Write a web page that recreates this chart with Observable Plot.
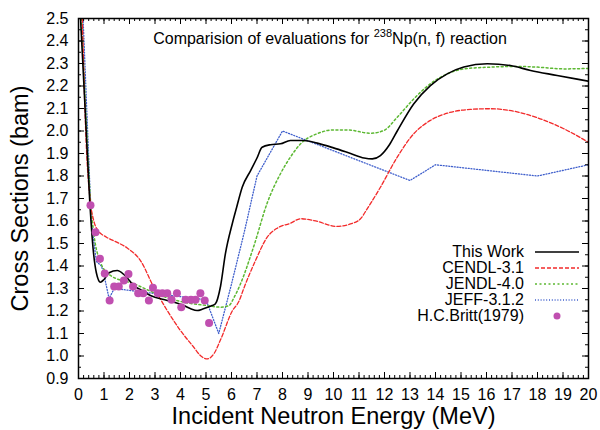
<!DOCTYPE html>
<html>
<head>
<meta charset="utf-8">
<script src="https://cdn.jsdelivr.net/npm/d3@7"></script>
<script src="https://cdn.jsdelivr.net/npm/@observablehq/plot@0.6"></script>
<style>
  html, body { margin: 0; padding: 0; background: #fff; }
  #wrap { position: relative; width: 600px; height: 430px; font-family: "Liberation Sans", Arial, sans-serif; color: #000; }
  #title { position: absolute; left: 130px; width: 400px; top: 31px; text-align: center; font-size: 16px; line-height: 16px; white-space: nowrap; }
  #title sup { font-size: 11px; line-height: 0; vertical-align: baseline; position: relative; top: -7px; }
  #legend { position: absolute; left: 380px; top: 244px; font-size: 16px; }
  .row { display: flex; align-items: center; height: 16px; line-height: 16px; }
  .row span { width: 144px; text-align: right; white-space: nowrap; }
  .row svg { margin-left: 11px; }
</style>
</head>
<body>
<div id="wrap">
  <div id="chart"></div>
  <div id="title">Comparision of evaluations for <sup>238</sup>Np(n, f) reaction</div>
  <div id="legend"></div>
</div>
<script>
// ---- Data ----
const thisWorkE = [0.08,0.25,0.44,0.57,0.7,0.86,1.0,1.2,1.52,1.8,2.17,2.5,2.82,3.48,4.13,4.4,4.65,4.9,5.1,5.24,5.37,5.57,5.76,6.03,6.2,6.42,6.75,7.0,7.2,7.53,7.92,8.31,8.84,9.36,10.0,10.67,11.2,11.52,11.84,12.2,12.5,13.15,13.8,14.46,15.11,16.03,16.94,17.73,18.77,20];
const thisWorkV = [2.5,2.12,1.69,1.48,1.37,1.328,1.34,1.37,1.38,1.36,1.313,1.29,1.269,1.247,1.224,1.21,1.202,1.21,1.218,1.224,1.232,1.31,1.454,1.588,1.66,1.75,1.824,1.88,1.928,1.939,1.943,1.958,1.958,1.946,1.925,1.90,1.88,1.876,1.891,1.94,2.0,2.121,2.202,2.254,2.284,2.299,2.291,2.269,2.247,2.221];

const cendlE = [0.15,0.3,0.45,0.6,0.75,1.1,1.52,1.91,2.43,2.95,3.48,4.0,4.52,4.8,5.05,5.31,5.57,6.03,6.3,6.48,6.94,7.4,7.79,8.31,8.71,9.23,10.14,10.67,11.06,11.32,11.84,12.5,13.15,13.8,14.46,15.37,16.16,17.07,17.99,19.03,20];
const cendlV = [2.5,1.95,1.70,1.60,1.56,1.528,1.505,1.48,1.424,1.306,1.202,1.113,1.039,1.0,0.987,1.01,1.072,1.2,1.245,1.3,1.424,1.528,1.568,1.59,1.61,1.602,1.576,1.587,1.61,1.654,1.75,1.884,1.988,2.047,2.079,2.096,2.099,2.088,2.059,2.01,1.95];

const jendlE = [0.12,0.3,0.47,0.6,0.86,1.25,2.17,3.22,4.13,5.05,5.57,5.9,6.1,6.35,6.88,7.4,7.92,8.31,8.71,9.36,10.01,10.54,11.45,11.97,12.5,13.15,13.8,14.46,15.11,16.16,17.2,17.99,19.03,20];
const jendlV = [2.5,2.05,1.69,1.544,1.417,1.358,1.321,1.269,1.239,1.224,1.217,1.224,1.26,1.32,1.49,1.68,1.81,1.884,1.943,1.988,2.005,2.005,1.99,2.002,2.061,2.143,2.21,2.254,2.276,2.284,2.287,2.284,2.276,2.278];

const jeffE = [0.18,0.5,0.7,0.9,1.0,1.2,1.4,5.0,5.5,6.0,6.5,7.0,8.0,13.0,14.0,18.0,20.0];
const jeffV = [2.5,1.60,1.42,1.40,1.36,1.255,1.30,1.25,1.10,1.32,1.55,1.80,2.0,1.78,1.85,1.80,1.85];

const brittE = [0.47,0.67,0.84,1.03,1.22,1.40,1.58,1.78,1.96,2.14,2.34,2.54,2.76,2.92,3.11,3.29,3.48,3.65,3.86,4.03,4.20,4.41,4.59,4.78,4.95,5.12];
const brittV = [1.670,1.550,1.432,1.367,1.247,1.309,1.309,1.336,1.365,1.309,1.279,1.279,1.247,1.303,1.279,1.279,1.279,1.25,1.279,1.217,1.25,1.25,1.25,1.279,1.247,1.147];

const xTickValues = d3.range(0, 21, 1);
const xMinorTicks = d3.range(0, 100.5, 1).map(i => i * 0.2);
const yTickValues = d3.range(9, 26, 1).map(i => i / 10);
const yMinorTicks = d3.range(18, 51, 1).map(i => i / 20);

const seriesNames = ["This Work", "CENDL-3.1", "JENDL-4.0", "JEFF-3.1.2", "H.C.Britt(1979)"];

// ---- Build ----
const pts = (E, V) => E.map((e, i) => ({e, v: V[i]}));
const styles = [
  {stroke: "#000000", strokeWidth: 1.6, strokeDasharray: null},
  {stroke: "#f22a2a", strokeWidth: 1.3, strokeDasharray: "4,2"},
  {stroke: "#5cb832", strokeWidth: 1.5, strokeDasharray: "2,2.5"},
  {stroke: "#3f5fcc", strokeWidth: 1.3, strokeDasharray: "1,1.8"}
];
const dotColor = "#c04fb0";

const W = 600, H = 430, mL = 78, mR = 12, mT = 18, mB = 52;
const iW = W - mL - mR, iH = H - mT - mB;

const chart = Plot.plot({
  width: W, height: H,
  marginLeft: mL, marginRight: mR, marginTop: mT, marginBottom: mB,
  x: {domain: [0, 20]},
  y: {domain: [0.9, 2.5]},
  style: {fontFamily: "'Liberation Sans', Arial, sans-serif", fontSize: "16px", color: "#000", background: "white"},
  marks: [
    Plot.line(pts(jeffE, jeffV), {x: "e", y: "v", ...styles[3], clip: true}),
    Plot.line(pts(jendlE, jendlV), {x: "e", y: "v", curve: "monotone-x", ...styles[2], clip: true}),
    Plot.line(pts(cendlE, cendlV), {x: "e", y: "v", curve: "monotone-x", ...styles[1], clip: true}),
    Plot.line(pts(thisWorkE, thisWorkV), {x: "e", y: "v", curve: "monotone-x", ...styles[0], clip: true}),
    Plot.dot(pts(brittE, brittV), {x: "e", y: "v", r: 4, fill: dotColor, stroke: null}),
    // inward ticks on all four sides
    Plot.tickX(xTickValues, {x: d => d, insetTop: iH - 6, stroke: "#000"}),
    Plot.tickX(xTickValues, {x: d => d, insetBottom: iH - 6, stroke: "#000"}),
    Plot.tickX(xMinorTicks, {x: d => d, insetTop: iH - 3, stroke: "#000"}),
    Plot.tickX(xMinorTicks, {x: d => d, insetBottom: iH - 3, stroke: "#000"}),
    Plot.tickY(yTickValues, {y: d => d, insetRight: iW - 6, stroke: "#000"}),
    Plot.tickY(yTickValues, {y: d => d, insetLeft: iW - 6, stroke: "#000"}),
    Plot.tickY(yMinorTicks, {y: d => d, insetRight: iW - 3, stroke: "#000"}),
    Plot.tickY(yMinorTicks, {y: d => d, insetLeft: iW - 3, stroke: "#000"}),
    Plot.frame({stroke: "#000", strokeWidth: 1.5}),
    Plot.axisX({ticks: xTickValues, tickSize: 0, tickPadding: 10, label: null, fontSize: 16}),
    Plot.axisY({ticks: yTickValues, tickSize: 0, tickPadding: 10, label: null, tickFormat: d => d.toFixed(1), fontSize: 16}),
    Plot.text(["Incident Neutron Energy (MeV)"], {frameAnchor: "bottom", lineAnchor: "middle", textAnchor: "middle", dy: 38, fontSize: 23.5, fill: "#000"}),
    Plot.text(["Cross Sections (bam)"], {frameAnchor: "left", lineAnchor: "middle", textAnchor: "middle", dx: -58, rotate: -90, fontSize: 23.5, fill: "#000"})
  ]
});
document.getElementById("chart").appendChild(chart);

// ---- Legend ----
const legend = document.getElementById("legend");
seriesNames.forEach((name, i) => {
  const row = document.createElement("div");
  row.className = "row";
  const span = document.createElement("span");
  span.textContent = name;
  row.appendChild(span);
  const ns = "http://www.w3.org/2000/svg";
  const svg = document.createElementNS(ns, "svg");
  svg.setAttribute("width", 44);
  svg.setAttribute("height", 16);
  if (i < 4) {
    const ln = document.createElementNS(ns, "line");
    ln.setAttribute("x1", 0); ln.setAttribute("x2", 44);
    ln.setAttribute("y1", 8); ln.setAttribute("y2", 8);
    ln.setAttribute("stroke", styles[i].stroke);
    ln.setAttribute("stroke-width", styles[i].strokeWidth);
    if (styles[i].strokeDasharray) ln.setAttribute("stroke-dasharray", styles[i].strokeDasharray);
    svg.appendChild(ln);
  } else {
    const c = document.createElementNS(ns, "circle");
    c.setAttribute("cx", 22); c.setAttribute("cy", 8); c.setAttribute("r", 3.5);
    c.setAttribute("fill", dotColor);
    svg.appendChild(c);
  }
  row.appendChild(svg);
  legend.appendChild(row);
});
</script>
</body>
</html>
